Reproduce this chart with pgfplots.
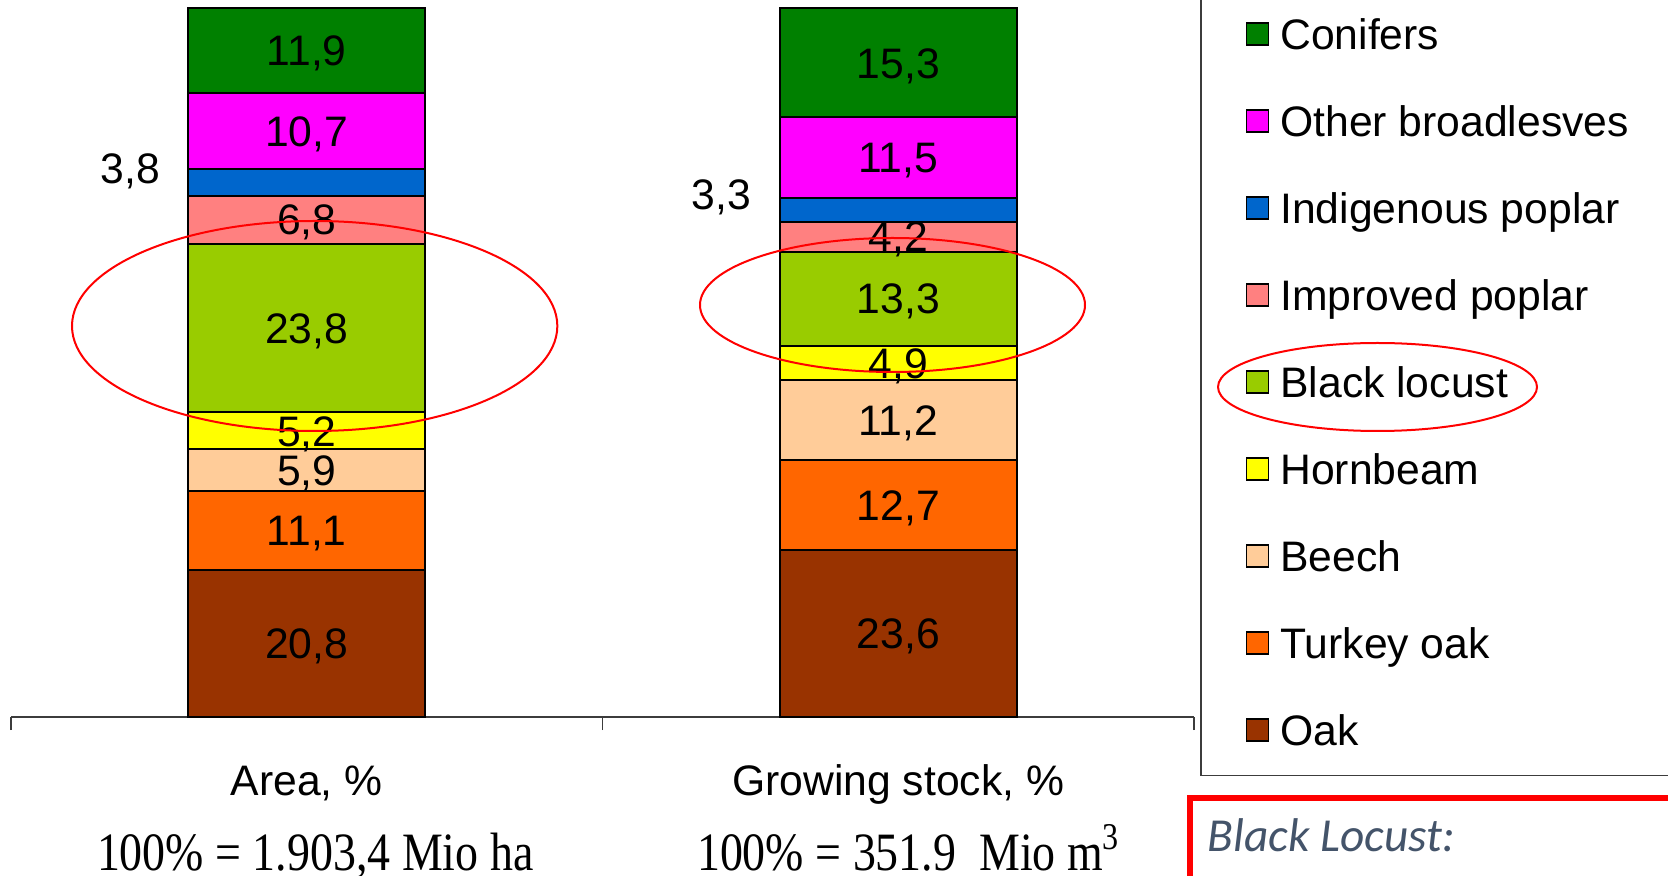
\documentclass[border=0pt]{standalone}
\usepackage{graphicx}
\usepackage{pgfplots}
\pgfplotsset{compat=1.18}
\usepackage{fontspec}
\setmainfont{Liberation Sans}
\newfontfamily\totalfont{Liberation Serif}
\newfontfamily\notefont{Carlito}

\definecolor{conif}{RGB}{0,128,0}
\definecolor{otherbl}{RGB}{255,0,255}
\definecolor{indpop}{RGB}{0,102,204}
\definecolor{imppop}{RGB}{255,128,128}
\definecolor{blocust}{RGB}{153,204,0}
\definecolor{hornb}{RGB}{255,255,0}
\definecolor{beech}{RGB}{255,204,153}
\definecolor{turkey}{RGB}{255,102,0}
\definecolor{oak}{RGB}{153,51,0}
\definecolor{notegray}{RGB}{68,84,106}
\definecolor{frame}{RGB}{60,60,60}

\newcommand\lblfont{\fontsize{12.8}{15}\selectfont}
\tikzset{lbl/.style={font=\lblfont, anchor=base, yshift=-4.6pt, inner sep=0pt}}

\begin{document}
\begin{tikzpicture}[x=1pt,y=1pt]
\path[use as bounding box, clip] (0,0) rectangle (500.4,262.5);
\begin{axis}[
  at={(3.3pt,47.4pt)}, anchor=south west,
  scale only axis, width=354.9pt, height=212.55pt,
  xmin=-0.5, xmax=1.5, ymin=0, ymax=100,
  clip=false,
  ybar stacked, bar width=71.1pt,
  axis x line=bottom, axis y line=none,
  x axis line style={-, draw=frame, line width=0.45pt},
  xtick={-0.5,0.5,1.5}, xticklabels={,,},
  tick align=outside, major tick length=3.9pt,
  x tick style={draw=frame, line width=0.45pt},
  ytick=\empty,
  seg/.style={fill=#1, draw=black, line width=0.6pt,
    legend image code/.code={\draw[fill=#1, draw=black, line width=0.4pt] (0pt,-3.3pt) rectangle (6.6pt,3.3pt);}},
  reverse legend,
  legend cell align=left,
  legend style={at={(1.04396,0.98565)}, anchor=north west,
    draw=none, fill=none, inner sep=0pt, outer sep=0pt,
    row sep=16.9pt, column sep=3.3pt,
    nodes={inner sep=0pt, text height=9.2pt, text depth=0pt},
    font=\lblfont},
]
% bottom to top: Oak ... Conifers; x=0 area share, x=1 growing stock share
\addplot[seg=oak]     coordinates {(0,20.8) (1,23.6)};
\addlegendentry{Oak}
\addplot[seg=turkey]  coordinates {(0,11.1) (1,12.7)};
\addlegendentry{Turkey oak}
\addplot[seg=beech]   coordinates {(0,5.9)  (1,11.2)};
\addlegendentry{Beech}
\addplot[seg=hornb]   coordinates {(0,5.2)  (1,4.9)};
\addlegendentry{Hornbeam}
\addplot[seg=blocust] coordinates {(0,23.8) (1,13.3)};
\addlegendentry{Black locust}
\addplot[seg=imppop]  coordinates {(0,6.8)  (1,4.2)};
\addlegendentry{Improved poplar}
\addplot[seg=indpop]  coordinates {(0,3.8)  (1,3.3)};
\addlegendentry{Indigenous poplar}
\addplot[seg=otherbl] coordinates {(0,10.7) (1,11.5)};
\addlegendentry{Other broadlesves}
\addplot[seg=conif]   coordinates {(0,11.9) (1,15.3)};
\addlegendentry{Conifers}

% anchors for the segment values (centre of each segment)
\coordinate (a1) at (axis cs:0,10.4);
\coordinate (a2) at (axis cs:0,26.35);
\coordinate (a3) at (axis cs:0,34.85);
\coordinate (a4) at (axis cs:0,40.4);
\coordinate (a5) at (axis cs:0,54.9);
\coordinate (a6) at (axis cs:0,70.2);
\coordinate (a7) at (axis cs:-0.298,77.5);
\coordinate (a8) at (axis cs:0,82.75);
\coordinate (a9) at (axis cs:0,94.05);
\coordinate (g1) at (axis cs:1,11.8);
\coordinate (g2) at (axis cs:1,29.95);
\coordinate (g3) at (axis cs:1,41.9);
\coordinate (g4) at (axis cs:1,49.95);
\coordinate (g5) at (axis cs:1,59.05);
\coordinate (g6) at (axis cs:1,67.8);
\coordinate (g7) at (axis cs:0.701,73.8);
\coordinate (g8) at (axis cs:1,78.95);
\coordinate (g9) at (axis cs:1,92.35);
\coordinate (ca) at (axis cs:0,0);
\coordinate (cg) at (axis cs:1,0);
\end{axis}

% segment values
\node[lbl] at (a1) {20,8};
\node[lbl] at (a2) {11,1};
\node[lbl] at (a3) {5,9};
\node[lbl] at (a4) {5,2};
\node[lbl] at (a5) {23,8};
\node[lbl] at (a6) {6,8};
\node[lbl] at (a7) {3,8};
\node[lbl] at (a8) {10,7};
\node[lbl] at (a9) {11,9};
\node[lbl] at (g1) {23,6};
\node[lbl] at (g2) {12,7};
\node[lbl] at (g3) {11,2};
\node[lbl] at (g4) {4,9};
\node[lbl] at (g5) {13,3};
\node[lbl] at (g6) {4,2};
\node[lbl] at (g7) {3,3};
\node[lbl] at (g8) {11,5};
\node[lbl] at (g9) {15,3};

% category names and totals
\node[font=\lblfont, anchor=base, inner sep=0pt, yshift=-23.4pt] at (ca) {Area, \%};
\node[font=\lblfont, anchor=base, inner sep=0pt, yshift=-23.4pt] at (cg) {Growing stock, \%};
\node[anchor=base, inner sep=0pt, yshift=-45.9pt, xshift=2.55pt] at (ca)
  {\scalebox{0.85}[1]{\totalfont\fontsize{16.2}{18}\selectfont 100\% = 1.903,4 Mio ha}};
\node[anchor=base, inner sep=0pt, yshift=-45.9pt, xshift=3.15pt] at (cg)
  {\scalebox{0.85}[1]{\totalfont\fontsize{16.2}{18}\selectfont 100\% = 351.9\ \ Mio m\textsuperscript{3}}};

% highlight of black locust
\draw[red, line width=0.6pt] (94.4,164.7) ellipse [x radius=72.8, y radius=31.5];
\draw[red, line width=0.6pt] (267.75,171.0) ellipse [x radius=57.75, y radius=20.1];
\draw[red, line width=0.6pt] (413.25,146.4) ellipse [x radius=47.85, y radius=13.2];

% legend frame
\draw[frame, line width=0.45pt] (360.3,270) -- (360.3,29.85) -- (510,29.85);

% note box
\draw[red, line width=1.7pt] (357,-5) -- (357,23.1) -- (510,23.1);
\node[anchor=base west, inner sep=0pt, text=notegray] at (362.1,7.2)
  {\notefont\itshape\fontsize{14.2}{16}\selectfont Black Locust:};
\end{tikzpicture}
\end{document}
